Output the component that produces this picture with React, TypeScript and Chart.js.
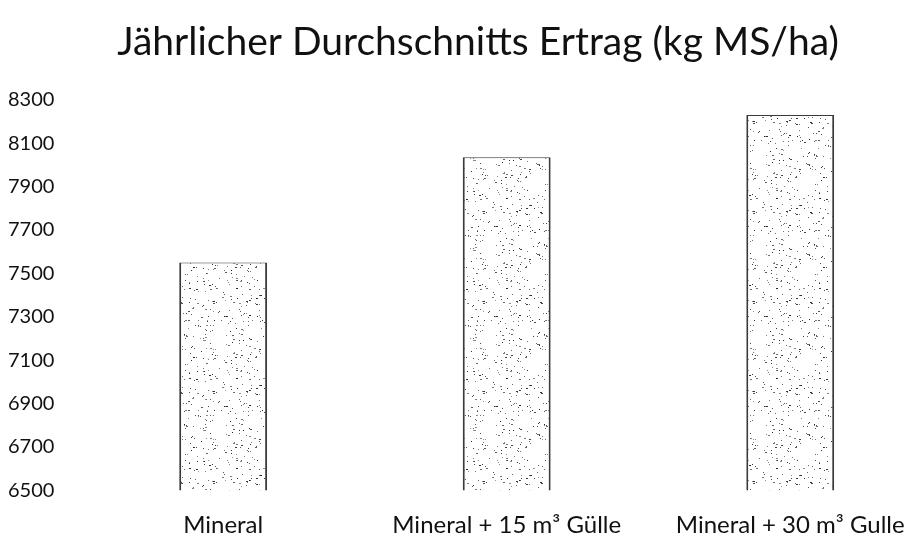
import React, { useEffect, useRef } from "react";
import { Chart, registerables } from "chart.js";

Chart.register(...registerables);

const categories: string[] = ["Mineral", "Mineral + 15 m³ Gülle", "Mineral + 30 m³ Gulle"];
const yieldValues: number[] = [7550, 8035, 8230];
const titleText = "Jährlicher Durchschnitts Ertrag (kg MS/ha)";
const yMin = 6500;
const yMax = 8300;
const yStep = 200;

function makeStipple(): CanvasPattern | string {
  const c = document.createElement("canvas");
  c.width = 90;
  c.height = 90;
  const ctx = c.getContext("2d");
  if (!ctx) return "#fff";
  ctx.fillStyle = "#ffffff";
  ctx.fillRect(0, 0, 90, 90);
  // deterministic texture (style only)
  let s = 12345;
  const rnd = () => {
    s = (s * 1103515245 + 12345) % 2147483648;
    return s / 2147483648;
  };
  for (let i = 0; i < 250; i++) {
    const x = Math.floor(rnd() * 90);
    const y = Math.floor(rnd() * 90);
    const g = Math.floor(40 + rnd() * 110);
    ctx.fillStyle = `rgb(${g},${g},${g})`;
    ctx.fillRect(x, y, rnd() < 0.25 ? 2 : 1, 1);
  }
  const p = ctx.createPattern(c, "repeat");
  return p || "#fff";
}

export default function App() {
  const ref = useRef<HTMLCanvasElement | null>(null);
  useEffect(() => {
    document.body.style.overflow = "hidden";
    if (!ref.current) return;
    const chart = new Chart(ref.current, {
      type: "bar",
      data: {
        labels: categories,
        datasets: [
          {
            data: yieldValues,
            backgroundColor: makeStipple() as any,
            borderColor: "#3a3a3a",
            borderWidth: { left: 2, right: 2, top: 1, bottom: 1 } as any,
            borderSkipped: false,
            categoryPercentage: 1,
            barPercentage: 0.31,
          },
        ],
      },
      options: {
        responsive: false,
        animation: false,
        layout: { padding: { left: 0, right: 0, top: 0, bottom: 4 } },
        plugins: {
          legend: { display: false },
          tooltip: { enabled: false },
          title: {
            display: true,
            text: titleText,
            color: "#111",
            font: { family: "Lato", size: 39, weight: "normal" },
            padding: { top: 11, bottom: 34 },
          },
        },
        scales: {
          x: {
            grid: { display: false, drawTicks: true, tickLength: 21 },
            border: { display: false },
            ticks: {
              color: "#111",
              font: { family: "Lato", size: 24 },
              padding: 0,
              maxRotation: 0,
              autoSkip: false,
            },
          },
          y: {
            min: yMin,
            max: yMax,
            grid: { display: false, drawTicks: true, tickLength: 27 },
            border: { display: false },
            ticks: {
              stepSize: yStep,
              color: "#111",
              font: { family: "Lato", size: 20 },
              padding: 0,
              callback: (v: any) => String(v),
            },
          },
          yRightSpace: {
            position: "right",
            min: yMin,
            max: yMax,
            grid: { display: false, drawTicks: false },
            border: { display: false },
            ticks: { display: false },
            afterFit: (scale: any) => {
              scale.width = 16;
            },
          },
        },
      },
    });
    return () => chart.destroy();
  }, []);
  return (
    <div style={{ width: 940, height: 536 }}>
      <canvas ref={ref} width={940} height={536} style={{ display: "block" }} />
    </div>
  );
}
